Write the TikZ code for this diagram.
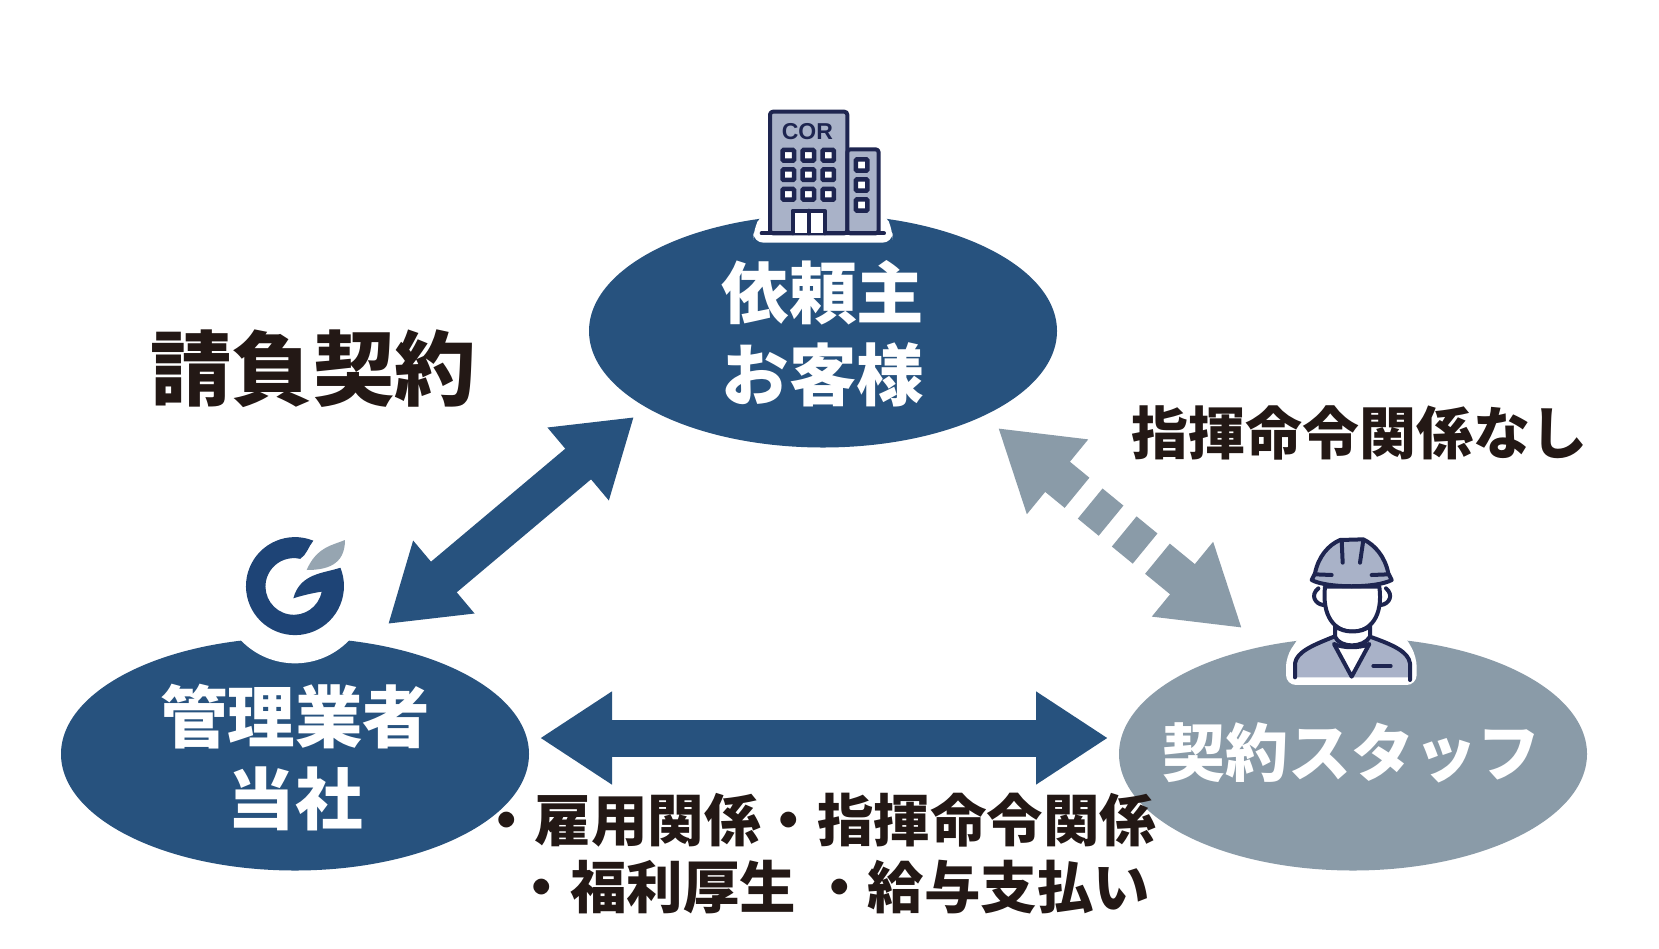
\documentclass[tikz,border=0pt]{standalone}
\usepackage{fontspec}
\usepackage{tikz}
\usetikzlibrary{arrows.meta,shapes.geometric}
\setmainfont{Noto Sans CJK JP}[BoldFont={Noto Sans CJK JP Black}]
\newfontfamily\iconfont{Liberation Sans}
\definecolor{navy}{HTML}{27527E}
\definecolor{logoblue}{HTML}{1E4476}
\definecolor{slate}{HTML}{8A9BA8}
\definecolor{inkline}{HTML}{1E2550}
\definecolor{iconfill}{HTML}{A9B2C8}
\definecolor{inktext}{HTML}{231815}
\tikzset{
  party/.style={ellipse, minimum width=468pt, minimum height=233pt, inner sep=0pt},
  partytext/.style={text=white, align=center, inner sep=0pt, font=\fontsize{67.5pt}{82pt}\selectfont\bfseries},
  caption/.style={text=inktext, inner sep=0pt, font=\fontsize{56.5pt}{68pt}\selectfont\bfseries},
  blockarrow/.style={line width=40pt, {Triangle[length=73pt,width=90pt]}-{Triangle[length=73pt,width=90pt]}},
  icon/.style={draw=inkline, line width=4pt, line join=round, line cap=round},
  win/.style={draw=inkline, fill=white, line width=4.5pt, rounded corners=1pt}
}
\begin{document}
\begin{tikzpicture}[x=1pt,y=-1pt]
\fill[white] (0,0) rectangle (1659,948);

\node[party, fill=navy] (client) at (823,331) {};
\node[party, fill=navy] (company) at (295,754) {};
\node[party, fill=slate] (staff) at (1353,754) {};

\node[partytext] (clienttext) at (823,334) {依頼主\\お客様};
\node[partytext] (companytext) at (295,758) {管理業者\\当社};
\node[partytext, font=\fontsize{63pt}{70pt}\selectfont\bfseries] (stafftext) at (1351,753) {契約スタッフ};

\node[caption, font=\fontsize{81.5pt}{90pt}\selectfont\bfseries] (contract) at (313,369) {請負契約};
\node[caption, font=\fontsize{57pt}{68pt}\selectfont\bfseries] (nocommand) at (1359,433) {指揮命令関係なし};
\node[caption] (dutiesa) at (817,820) {・雇用関係・指揮命令関係};
\node[caption] (dutiesb) at (832,887) {・福利厚生\hspace{15pt}・給与支払い};

% arrows
\coordinate (a1) at (634,417);
\coordinate (a2) at (388,624);
\coordinate (b1) at (540,738);
\coordinate (b2) at (1108,738);
\coordinate (c1) at (998,428);
\coordinate (c2) at (1242,628);
\draw[blockarrow, navy] (a1) -- (a2);
\draw[blockarrow, navy, line width=37pt, {Triangle[length=72pt,width=88pt]}-{Triangle[length=72pt,width=88pt]}] (b1) -- (b2);
\draw[slate, line width=39pt, {Triangle[length=77pt,width=91pt]}-{Triangle[length=77pt,width=91pt]},
  dash pattern=on 30pt off 17pt on 27pt off 17pt on 27pt off 16pt on 60pt off 60pt] (c1) -- (c2);

% building
\begin{scope}[shift={(720,90)}, x=0.3333pt, y=-0.3333pt]
\fill[white, rounded corners=10pt] (125,370) -- (100,420) -- (100,458) -- (518,458) -- (518,420) -- (495,370) -- cycle;
\draw[icon, fill=iconfill, rounded corners=3pt] (150,430) -- (150,65) -- (382,65) -- (382,430) -- cycle;
\draw[icon, fill=iconfill, rounded corners=3pt] (382,430) -- (382,178) -- (476,178) -- (476,430) -- cycle;
\draw[icon] (125,430) -- (492,430);
\node[text=inkline, inner sep=0pt, font=\iconfont\bfseries\fontsize{23pt}{23pt}\selectfont] (cor) at (262,124) {COR};
\draw[win] (188,180) rectangle (222,212);
\draw[win] (248,180) rectangle (282,212);
\draw[win] (308,180) rectangle (342,212);
\draw[win] (188,238) rectangle (222,270);
\draw[win] (248,238) rectangle (282,270);
\draw[win] (308,238) rectangle (342,270);
\draw[win] (188,297) rectangle (222,329);
\draw[win] (248,297) rectangle (282,329);
\draw[win] (308,297) rectangle (342,329);
\draw[win] (408,208) rectangle (442,242);
\draw[win] (408,268) rectangle (442,302);
\draw[win] (408,328) rectangle (442,362);
\draw[icon, fill=white] (218,430) -- (218,362) -- (314,362) -- (314,430);
\draw[icon] (266,362) -- (266,430);
\end{scope}

% logo
\begin{scope}[shift={(220,520)}, x=0.3333pt, y=-0.3333pt]
\fill[white] (225,205) circle (75pt);
\fill[logoblue] (280,62) arc[start angle=-68, end angle=-382, radius=147]
  .. controls (310,160) and (240,160) .. (220,235)
  .. controls (250,225) and (285,218) .. (305,215)
  arc[start angle=10.6, end angle=283, radius=85]
  .. controls (260,105) and (265,80) .. (280,62) -- cycle;
\fill[slate!90!white] (375,60) .. controls (340,75) and (290,80) .. (260,150)
  .. controls (320,150) and (375,135) .. (375,60) -- cycle;
\end{scope}

% worker
\begin{scope}[shift={(1260,520)}, x=0.3333pt, y=-0.3333pt]
\fill[white, rounded corners=10pt] (125,340) -- (78,410) -- (78,495) -- (470,495) -- (470,410) -- (430,340) -- cycle;
\fill[iconfill] (105,472) -- (105,430) .. controls (110,395) and (160,375) .. (222,350) -- (330,350) .. controls (400,375) and (445,395) .. (450,430) -- (450,472) -- cycle;
\draw[icon, fill=white] (222,372) .. controls (250,385) and (300,385) .. (328,372) -- (275,470) -- cycle;
\draw[icon] (105,472) -- (105,430) .. controls (110,395) and (160,375) .. (222,350);
\draw[icon] (330,350) .. controls (400,375) and (445,395) .. (450,430) -- (450,480);
\draw[icon] (340,438) -- (392,438);
\draw[icon] (175,205) .. controls (150,225) and (165,252) .. (190,255);
\draw[icon] (378,205) .. controls (402,225) and (388,252) .. (363,255);
\draw[icon, fill=white] (195,200) .. controls (185,290) and (225,335) .. (277,335) .. controls (330,335) and (370,290) .. (358,200) -- cycle;
\draw[icon, fill=white] (225,318) -- (225,350) .. controls (240,385) and (310,385) .. (330,350) -- (330,318) .. controls (305,340) and (250,340) .. (225,318) -- cycle;
\draw[icon, fill=iconfill] (165,160) .. controls (175,110) and (205,75) .. (240,60) -- (310,58) .. controls (345,75) and (375,110) .. (385,160)
  -- (395,180) .. controls (350,205) and (200,205) .. (155,180) -- cycle;
\draw[icon] (245,60) -- (248,128);
\draw[icon] (310,60) -- (300,128);
\draw[icon] (165,163) -- (215,165);
\draw[icon] (335,165) -- (385,163);
\end{scope}

\end{tikzpicture}
\end{document}
